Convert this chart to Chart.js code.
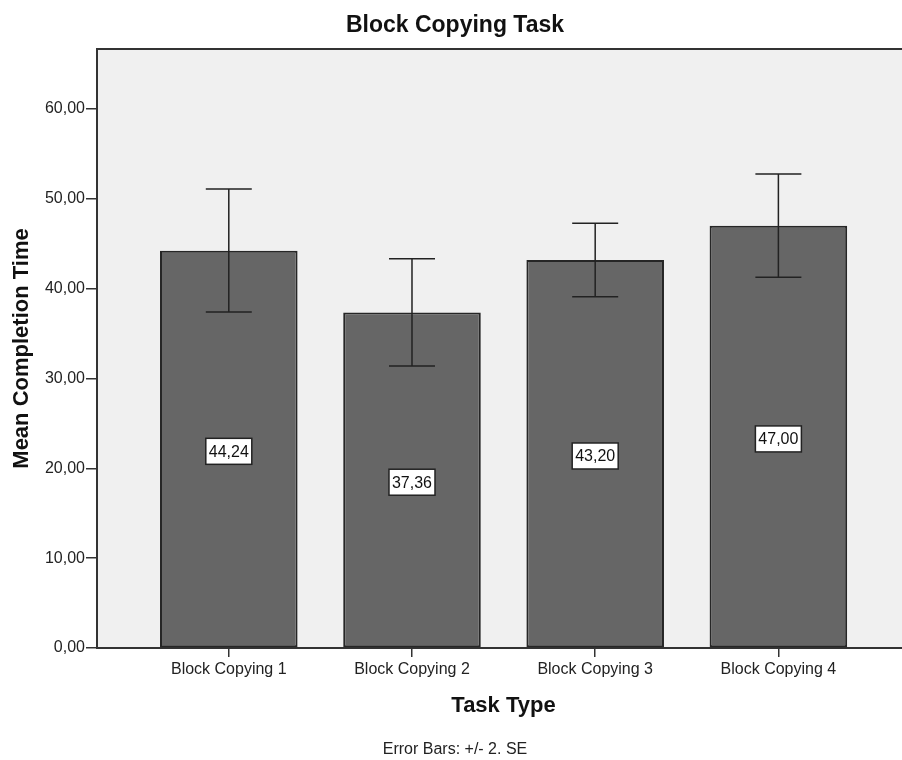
<!DOCTYPE html>
<html>
<head>
<meta charset="utf-8">
<title>Block Copying Task</title>
<script src="https://cdn.jsdelivr.net/npm/chart.js@4.4.1/dist/chart.umd.min.js"></script>
<style>
    html, body { margin: 0; padding: 0; background: #fff; overflow: hidden; }
    #wrap { width: 910px; height: 760px; }
</style>
</head>
<body>
<div id="wrap"><canvas id="chart"></canvas></div>
<script>
// chart data
const categories = ["Block Copying 1", "Block Copying 2", "Block Copying 3", "Block Copying 4"];
const meanTimes = [44.24, 37.36, 43.20, 47.00];
const errLower = [37.41, 31.39, 39.12, 41.28];
const errUpper = [51.09, 43.35, 47.30, 52.76];
const yTicks = [0, 10, 20, 30, 40, 50, 60];

const fmt = (v) => v.toFixed(2).replace(".", ",");

Chart.defaults.font.family = "'Liberation Sans', Arial, sans-serif";
Chart.defaults.color = "#222";

// plot background, top frame line, error bars and value boxes
const spssPlugin = {
    id: "spss",
    beforeDraw(chart) {
        const { ctx, chartArea } = chart;
        ctx.save();
        ctx.fillStyle = "#f0f0f0";
        ctx.fillRect(chartArea.left, chartArea.top, chartArea.right - chartArea.left, chartArea.bottom - chartArea.top);
        ctx.restore();
    },
    afterDatasetsDraw(chart) {
        const { ctx, chartArea, scales } = chart;
        const x = scales.x, y = scales.y;
        ctx.save();

        // error bars
        ctx.strokeStyle = "#222";
        ctx.lineWidth = 1.5;
        meanTimes.forEach((m, i) => {
            const px = x.getPixelForValue(i + 1);
            const top = y.getPixelForValue(errUpper[i]);
            const bot = y.getPixelForValue(errLower[i]);
            ctx.beginPath();
            ctx.moveTo(px, top);
            ctx.lineTo(px, bot);
            ctx.moveTo(px - 23, top);
            ctx.lineTo(px + 23, top);
            ctx.moveTo(px - 23, bot);
            ctx.lineTo(px + 23, bot);
            ctx.stroke();
        });

        // value labels
        ctx.font = "16px 'Liberation Sans', Arial, sans-serif";
        ctx.textAlign = "center";
        ctx.textBaseline = "middle";
        meanTimes.forEach((m, i) => {
            const px = x.getPixelForValue(i + 1);
            const py = y.getPixelForValue(m / 2) + 2;
            ctx.fillStyle = "#fff";
            ctx.fillRect(px - 23, py - 13, 46, 26);
            ctx.strokeStyle = "#222";
            ctx.lineWidth = 1.5;
            ctx.strokeRect(px - 23, py - 13, 46, 26);
            ctx.fillStyle = "#111";
            ctx.fillText(fmt(m), px, py + 1);
        });

        // top frame
        ctx.strokeStyle = "#333";
        ctx.lineWidth = 2;
        ctx.beginPath();
        ctx.moveTo(chartArea.left, chartArea.top);
        ctx.lineTo(chartArea.right, chartArea.top);
        ctx.stroke();
        ctx.restore();
    }
};

new Chart(document.getElementById("chart"), {
    type: "bar",
    data: {
        datasets: [{
            label: "Mean Completion Time",
            data: meanTimes.map((v, i) => ({ x: i + 1, y: v })),
            backgroundColor: "#666666",
            borderColor: "#262626",
            borderWidth: 2,
            borderSkipped: false,
            barPercentage: 0.751,
            categoryPercentage: 1
        }]
    },
    options: {
        responsive: true,
        maintainAspectRatio: false,
        devicePixelRatio: 1,
        animation: false,
        layout: { padding: 0 },
        plugins: {
            legend: { display: false },
            tooltip: { enabled: false },
            title: {
                display: true,
                text: "Block Copying Task",
                color: "#111",
                font: { size: 23, weight: "bold" },
                padding: { top: 12, bottom: 9.4 }
            },
            subtitle: {
                display: true,
                position: "bottom",
                text: "Error Bars: +/- 2. SE",
                color: "#222",
                font: { size: 16 },
                padding: { top: 0, bottom: 1 }
            }
        },
        scales: {
            x: {
                type: "linear",
                offset: false,
                min: 0.2806,
                max: 4.7184,
                afterBuildTicks: (scale) => {
                    scale.ticks = categories.map((c, i) => ({ value: i + 1 }));
                },
                afterFit: (scale) => { scale.height = 91.8; },
                ticks: {
                    callback: (v) => categories[v - 1],
                    font: { size: 16 },
                    color: "#222",
                    padding: 3,
                    maxRotation: 0,
                    autoSkip: false
                },
                grid: {
                    offset: false,
                    drawOnChartArea: false,
                    tickLength: 9,
                    color: "#333",
                    lineWidth: 1.5
                },
                border: { color: "#333", width: 2 },
                title: {
                    display: true,
                    text: "Task Type",
                    color: "#111",
                    font: { size: 22, weight: "bold" },
                    padding: { top: 0, bottom: 21 }
                }
            },
            y: {
                min: 0,
                max: 66.69,
                afterBuildTicks: (scale) => {
                    scale.ticks = yTicks.map((v) => ({ value: v }));
                },
                afterFit: (scale) => { scale.width = 97; },
                ticks: {
                    callback: (v) => fmt(v),
                    font: { size: 16 },
                    color: "#222",
                    padding: 1
                },
                grid: {
                    drawOnChartArea: false,
                    tickLength: 11,
                    color: "#333",
                    lineWidth: 1.5
                },
                border: { color: "#333", width: 2 },
                title: {
                    display: true,
                    text: "Mean Completion Time",
                    color: "#111",
                    font: { size: 22, weight: "bold" },
                    padding: { top: 9, bottom: 0 }
                }
            }
        }
    },
    plugins: [spssPlugin]
});
</script>
</body>
</html>
